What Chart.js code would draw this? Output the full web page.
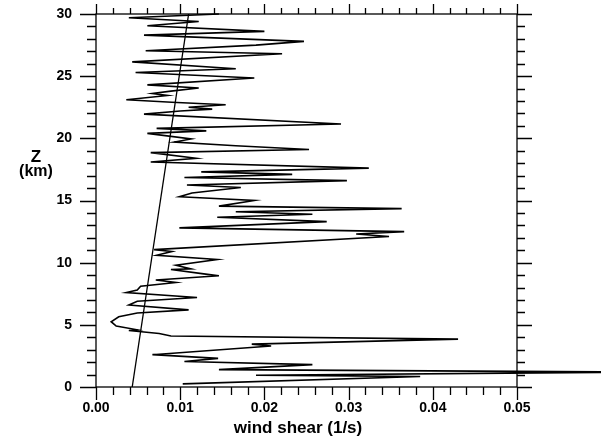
<!DOCTYPE html>
<html>
<head>
<meta charset="utf-8">
<script src="https://cdn.jsdelivr.net/npm/chart.js@4.4.0/dist/chart.umd.min.js"></script>
<style>
  html, body { margin: 0; padding: 0; background: #fff; }
  #wrap { width: 601px; height: 439px; }
</style>
</head>
<body>
<div id="wrap"><canvas id="chart" width="601" height="439"></canvas></div>
<script>
// wind shear profile, listed from the top of the sounding downwards
const altitudeKm = [
  30.0, 29.7, 29.4, 29.05, 28.6, 28.3, 27.8, 27.5, 27.05, 26.8,
  26.15, 25.6, 25.3, 24.85, 24.3, 24.05, 23.8, 23.6, 23.45, 23.1,
  22.9, 22.7, 22.5, 22.35, 22.2, 21.95, 21.15, 20.8, 20.6, 20.4,
  19.95, 19.7, 19.4, 19.1, 18.85, 18.4, 18.1, 17.6, 17.3, 17.1,
  16.85, 16.6, 16.25, 16.05, 15.6, 15.3, 15.0, 14.55, 14.35, 14.1,
  13.9, 13.65, 13.3, 12.8, 12.5, 12.3, 12.1, 11.05, 10.9, 10.6,
  10.25, 9.8, 9.5, 9.45, 9.1, 8.95, 8.6, 8.4, 8.1, 7.8,
  7.6, 7.2, 6.9, 6.6, 6.2, 5.95, 5.65, 5.25, 4.9, 4.6,
  4.55, 4.3, 4.1, 3.85, 3.45, 3.3, 2.6, 2.3, 2.05, 1.8,
  1.4, 1.2, 0.95, 0.85, 0.25
];
const shear = [
  0.0146, 0.0039, 0.0122, 0.0061, 0.0200, 0.0057, 0.0247, 0.0190, 0.0059, 0.0221,
  0.0043, 0.0166, 0.0047, 0.0188, 0.0061, 0.0122, 0.0089, 0.0067, 0.0085, 0.0036,
  0.0090, 0.0154, 0.0110, 0.0138, 0.0100, 0.0057, 0.0291, 0.0072, 0.0131, 0.0061,
  0.0113, 0.0093, 0.0166, 0.0253, 0.0065, 0.0119, 0.0065, 0.0324, 0.0125, 0.0233,
  0.0105, 0.0298, 0.0108, 0.0172, 0.0114, 0.0099, 0.0188, 0.0146, 0.0363, 0.0166,
  0.0257, 0.0144, 0.0274, 0.0099, 0.0366, 0.0309, 0.0348, 0.0069, 0.0090, 0.0072,
  0.0144, 0.0095, 0.0113, 0.0089, 0.0128, 0.0146, 0.0071, 0.0095, 0.0053, 0.0049,
  0.0036, 0.0120, 0.0049, 0.0039, 0.0110, 0.0049, 0.0027, 0.0018, 0.0024, 0.0049,
  0.0039, 0.0075, 0.0089, 0.0430, 0.0185, 0.0208, 0.0067, 0.0145, 0.0105, 0.0257,
  0.0146, 0.0650, 0.0190, 0.0385, 0.0103
];

// reference straight line
const trendKm = [0, 30];
const trendShear = [0.0043, 0.011];

const xTicks = [0, 0.01, 0.02, 0.03, 0.04, 0.05];
const yTicks = [0, 5, 10, 15, 20, 25, 30];

const FONT = '"Liberation Sans", Arial, sans-serif';

const toPoints = (xs, ys) => xs.map((v, i) => ({x: v, y: ys[i]}));

// boxed frame with outward ticks on all four sides, plus axis captions
const frameTicks = {
  id: 'frameTicks',
  afterDatasetsDraw(chart) {
    const {ctx, chartArea: a, scales: {x, y}} = chart;
    ctx.save();
    ctx.strokeStyle = '#000';
    ctx.lineWidth = 1.3;
    ctx.strokeRect(a.left, a.top, a.right - a.left, a.bottom - a.top);

    ctx.beginPath();
    for (let i = 0; i <= 25; i++) {
      const px = Math.round(x.getPixelForValue(i * 0.002)) + 0.5;
      const major = i % 5 === 0;
      ctx.moveTo(px, a.bottom);
      ctx.lineTo(px, a.bottom + (major ? 13 : 8));
      ctx.moveTo(px, a.top);
      ctx.lineTo(px, a.top - (major ? 10 : 6));
    }
    for (let k = 0; k <= 30; k++) {
      const py = Math.round(y.getPixelForValue(k)) + 0.5;
      const major = k % 5 === 0;
      ctx.moveTo(a.left, py);
      ctx.lineTo(a.left - (major ? 16 : 9), py);
      ctx.moveTo(a.right, py);
      ctx.lineTo(a.right + (major ? 15 : 8), py);
    }
    ctx.stroke();

    ctx.fillStyle = '#000';
    ctx.textAlign = 'center';
    ctx.textBaseline = 'middle';
    ctx.font = 'bold 17px ' + FONT;
    ctx.fillText('wind shear (1/s)', 298, 428);
    ctx.fillText('Z', 36, 157);
    ctx.font = 'bold 16px ' + FONT;
    ctx.fillText('(km)', 36, 172);
    ctx.restore();
  }
};

new Chart(document.getElementById('chart'), {
  type: 'scatter',
  data: {
    datasets: [
      {
        data: toPoints(shear, altitudeKm),
        showLine: true,
        borderColor: '#000',
        borderWidth: 1.6,
        pointRadius: 0,
        tension: 0,
        clip: false
      },
      {
        data: toPoints(trendShear, trendKm),
        showLine: true,
        borderColor: '#000',
        borderWidth: 1.3,
        pointRadius: 0
      }
    ]
  },
  options: {
    responsive: false,
    animation: false,
    layout: {padding: {left: 0, right: 84, top: 14, bottom: 0}},
    plugins: {legend: {display: false}, tooltip: {enabled: false}},
    scales: {
      x: {
        type: 'linear',
        min: 0,
        max: 0.05,
        grid: {display: false, drawTicks: false},
        border: {display: false},
        afterBuildTicks: s => { s.ticks = xTicks.map(v => ({value: v})); },
        afterFit: s => { s.height = 52; s.paddingLeft = 0; s.paddingRight = 0; },
        ticks: {
          padding: 13,
          color: '#000',
          font: {family: FONT, size: 14, weight: 'bold'},
          callback: v => v.toFixed(2)
        }
      },
      y: {
        type: 'linear',
        min: 0,
        max: 30,
        grid: {display: false, drawTicks: false},
        border: {display: false},
        afterBuildTicks: s => { s.ticks = yTicks.map(v => ({value: v})); },
        afterFit: s => { s.width = 96; s.paddingTop = 0; s.paddingBottom = 0; },
        ticks: {
          padding: 24,
          color: '#000',
          font: {family: FONT, size: 14, weight: 'bold'}
        }
      }
    }
  },
  plugins: [frameTicks]
});
</script>
</body>
</html>
